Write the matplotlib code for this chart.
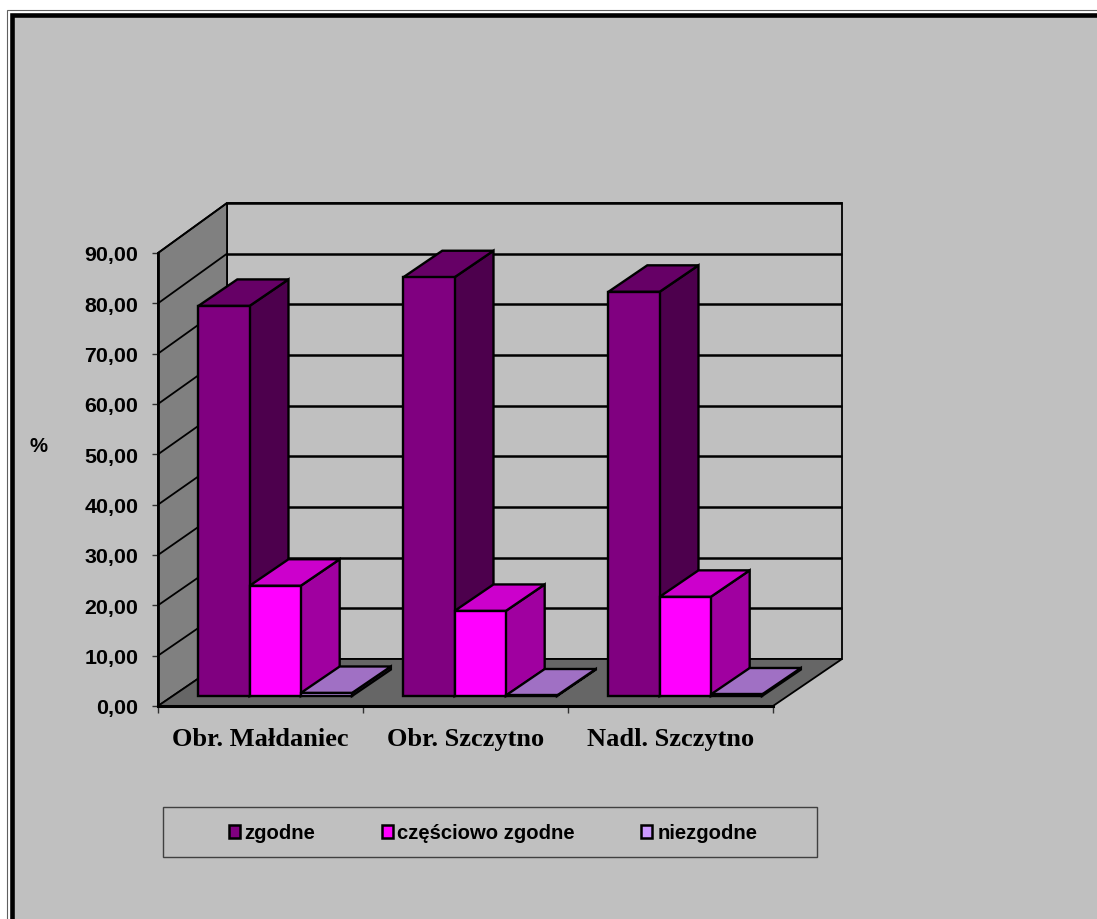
import matplotlib
matplotlib.use('AGG')
import matplotlib.pyplot as plt
from matplotlib.patches import Polygon, Rectangle

categories = ['Obr. Małdaniec', 'Obr. Szczytno', 'Nadl. Szczytno']
series_names = ['zgodne', 'częściowo zgodne', 'niezgodne']
zgodne = [77.5, 83.2, 80.3]
czesciowo = [21.9, 16.9, 19.7]
niezgodne = [0.6, 0.1, 0.3]
y_ticks = [0, 10, 20, 30, 40, 50, 60, 70, 80, 90]

BG = '#c0c0c0'
W, H = 1097, 920
# front, top, side
colors = [('#800080', '#660066', '#4d004d'),
          ('#ff00ff', '#cc00cc', '#a000a0'),
          ('#cc99ff', '#a070c4', '#8a5cb0')]
legend_colors = ['#800080', '#ff00ff', '#cc99ff']

# oblique projection, depth 1 = back wall
DX = 69 / 205.0       # category units
PX_PER_UNIT = 453 / 90.0
BAR_D0, BAR_D1 = 10 / 47.0, 36.5 / 47.0
BAR_W = 51.2 / 205.0
GAP = (1 - 3 * BAR_W) / 2


def pr(x, y, d=0.0):
    # back wall is very slightly taller than the front edge
    return (x + d * DX, y + d * (47 + y / 30.0) / PX_PER_UNIT)


def br(x, y, d):
    # same thing for the bars, without the stretch
    return (x + d * DX, y + d * 47 / PX_PER_UNIT)


fig = plt.figure(figsize=(W / 100, H / 100), dpi=100, facecolor='white')

# frame goes past the right and bottom edge of the picture
fig.add_artist(Rectangle((6.5 / W, -0.1), 1.2, 1.1 - 10.5 / H, transform=fig.transFigure,
                         fc='white', ec='#606060', lw=0.8, zorder=-3))
fig.add_artist(Rectangle((11.75 / W, -0.1), 1.2, 1.1 - 16.2 / H, transform=fig.transFigure,
                         fc=BG, ec='black', lw=3.3, zorder=-2))

ax = fig.add_axes([158 / W, 1 - 707 / H, 615 / W, 453 / H])
ax.set_xlim(0, 3)
ax.set_ylim(0, 90)
ax.patch.set_visible(False)
for s in ax.spines.values():
    s.set_visible(False)


def face(pts, fc, z, lw=1.7):
    ax.add_patch(Polygon(pts, closed=True, fc=fc, ec='black', lw=lw, zorder=z,
                         clip_on=False, joinstyle='miter'))


# walls and floor
face([pr(0, 0, 1), pr(3, 0, 1), pr(3, 90, 1), pr(0, 90, 1)], BG, 1, lw=1.3)
face([pr(0, 0), pr(0, 0, 1), pr(0, 90, 1), pr(0, 90)], '#808080', 1, lw=1.3)
face([pr(0, 0), pr(3, 0), pr(3, 0, 1), pr(0, 0, 1)], '#666666', 1, lw=1.3)

# gridlines run along left wall and back wall
for v in y_ticks[1:]:
    ax.plot([pr(0, v)[0], pr(0, v, 1)[0]], [pr(0, v)[1], pr(0, v, 1)[1]],
            color='black', lw=1.3, zorder=2, clip_on=False, solid_capstyle='butt')
    ax.plot([pr(0, v, 1)[0], pr(3, v, 1)[0]], [pr(0, v, 1)[1], pr(3, v, 1)[1]],
            color='black', lw=1.8, zorder=2, clip_on=False, solid_capstyle='butt')

# bars
all_vals = [zgodne, czesciowo, niezgodne]
z = 3
for c in range(len(categories)):
    for k in range(3):
        val = all_vals[k][c]
        x0 = c + GAP + k * BAR_W
        x1 = x0 + BAR_W
        front, top, side = colors[k]
        face([br(x1, 0, BAR_D0), br(x1, 0, BAR_D1), br(x1, val, BAR_D1), br(x1, val, BAR_D0)], side, z)
        face([br(x0, val, BAR_D0), br(x1, val, BAR_D0), br(x1, val, BAR_D1), br(x0, val, BAR_D1)], top, z)
        face([br(x0, 0, BAR_D0), br(x1, 0, BAR_D0), br(x1, val, BAR_D0), br(x0, val, BAR_D0)], front, z)
        z += 1

ax.set_yticks(y_ticks)
ax.set_yticklabels([('%.2f' % v).replace('.', ',') for v in y_ticks],
                   family='Liberation Sans', fontweight='bold', fontsize=15.4)
ax.set_xticks([0, 1, 2, 3])
ax.set_xticklabels([])
ax.set_xticks([0.5, 1.5, 2.5], minor=True)
ax.set_xticklabels(categories, minor=True, family='Liberation Serif', fontweight='bold', fontsize=19)
ax.tick_params(axis='x', which='major', length=5, width=1, color='#303030')
ax.tick_params(axis='x', which='minor', length=0, pad=15)
ax.tick_params(axis='y', length=4.3, width=1, color='#303030', pad=10)
ax.plot([0, 3], [0, 0], color='black', lw=2.2, zorder=2, clip_on=False)
ax.plot([0, 0], [0, 90], color='black', lw=2, zorder=2, clip_on=False)

fig.text(39 / W, 1 - 447 / H, '%', family='Liberation Sans', fontweight='bold', fontsize=14.6,
         ha='center', va='center')

# legend box
fig.add_artist(Rectangle((162.5 / W, 1 - 857.5 / H), 654 / W, 50 / H, transform=fig.transFigure,
                         fc='none', ec='#404040', lw=1))
leg_x = [229, 382, 641]
text_x = [244, 397, 658]
for i, name in enumerate(series_names):
    fig.add_artist(Rectangle((leg_x[i] / W, 1 - 839 / H), 11 / W, 13 / H, transform=fig.transFigure,
                             fc=legend_colors[i], ec='black', lw=1.8))
    fig.text(text_x[i] / W, 1 - 834 / H, name, family='Liberation Sans', fontweight='bold',
             fontsize=14.6, ha='left', va='center')

fig.savefig('out.png', dpi=100)
